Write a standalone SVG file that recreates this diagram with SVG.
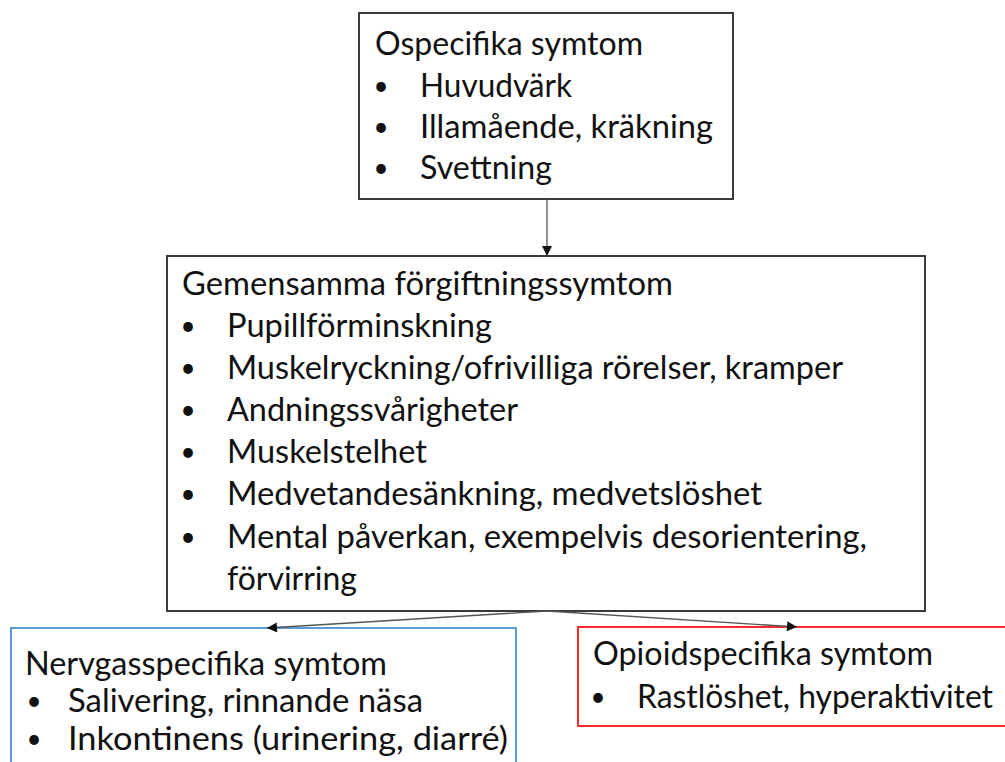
<svg xmlns="http://www.w3.org/2000/svg" width="1005" height="762" viewBox="0 0 1005 762">
<style>
text{font-family:Lato,"Open Sans","Liberation Sans",sans-serif;font-size:33px;fill:#111}
.b{text-anchor:middle;font-size:26px}
.box{fill:#fff;stroke:#3a3a3a;stroke-width:2}
.blue{fill:#fff;stroke:#5b9bd5;stroke-width:2}
.red{fill:#fff;stroke:#ff2a2a;stroke-width:2}
.con{fill:none;stroke:#555;stroke-width:1.3}
</style>
<defs>
<marker id="ah" viewBox="0 0 10 10" refX="10" refY="5" markerWidth="11" markerHeight="10" markerUnits="userSpaceOnUse" orient="auto">
<path d="M0,0 L10,5 L0,10 z" fill="#111"/>
</marker>
</defs>
<rect width="1005" height="762" fill="#fff"/>
<g id="node-ospecifika">
<rect class="box" x="359" y="13" width="374" height="186"/>
<text x="375" y="55" textLength="268" lengthAdjust="spacingAndGlyphs">Ospecifika symtom</text>
<text class="b" x="381" y="95">•</text>
<text x="420" y="97" textLength="152" lengthAdjust="spacingAndGlyphs">Huvudvärk</text>
<text class="b" x="381" y="136">•</text>
<text x="420" y="138" textLength="293" lengthAdjust="spacingAndGlyphs">Illamående, kräkning</text>
<text class="b" x="381" y="177">•</text>
<text x="420" y="179" textLength="132" lengthAdjust="spacingAndGlyphs">Svettning</text>
</g>
<g id="node-gemensamma">
<rect class="box" x="167" y="256" width="758" height="355"/>
<text x="182" y="295" textLength="491" lengthAdjust="spacingAndGlyphs">Gemensamma förgiftningssymtom</text>
<text class="b" x="188" y="335">•</text>
<text x="227" y="337" textLength="265" lengthAdjust="spacingAndGlyphs">Pupillförminskning</text>
<text class="b" x="188" y="377">•</text>
<text x="227" y="379" textLength="616" lengthAdjust="spacingAndGlyphs">Muskelryckning/ofrivilliga rörelser, kramper</text>
<text class="b" x="188" y="419">•</text>
<text x="227" y="421" textLength="291" lengthAdjust="spacingAndGlyphs">Andningssvårigheter</text>
<text class="b" x="188" y="461">•</text>
<text x="227" y="463" textLength="200" lengthAdjust="spacingAndGlyphs">Muskelstelhet</text>
<text class="b" x="188" y="503">•</text>
<text x="227" y="505" textLength="535" lengthAdjust="spacingAndGlyphs">Medvetandesänkning, medvetslöshet</text>
<text class="b" x="188" y="546">•</text>
<text x="227" y="548" textLength="640" lengthAdjust="spacingAndGlyphs">Mental påverkan, exempelvis desorientering,</text>
<text x="227" y="590" textLength="130" lengthAdjust="spacingAndGlyphs">förvirring</text>
</g>
<g id="node-nervgas">
<rect class="blue" x="11" y="628" width="505" height="150"/>
<text x="25" y="675" textLength="362" lengthAdjust="spacingAndGlyphs">Nervgasspecifika symtom</text>
<text class="b" x="34" y="710">•</text>
<text x="68" y="712" textLength="355" lengthAdjust="spacingAndGlyphs">Salivering, rinnande näsa</text>
<text class="b" x="34" y="748">•</text>
<text x="68" y="750" textLength="440" lengthAdjust="spacingAndGlyphs">Inkontinens (urinering, diarré)</text>
</g>
<g id="node-opioid">
<rect class="red" x="578" y="627" width="440" height="99"/>
<text x="593" y="665" textLength="340" lengthAdjust="spacingAndGlyphs">Opioidspecifika symtom</text>
<text class="b" x="598" y="706">•</text>
<text x="637" y="708" textLength="356" lengthAdjust="spacingAndGlyphs">Rastlöshet, hyperaktivitet</text>
</g>
<g id="connectors">
<line class="con" x1="547" y1="199" x2="547" y2="256" marker-end="url(#ah)"/>
<line class="con" x1="547" y1="611" x2="267" y2="628" marker-end="url(#ah)"/>
<line class="con" x1="547" y1="611" x2="797" y2="627" marker-end="url(#ah)"/>
</g>
</svg>
